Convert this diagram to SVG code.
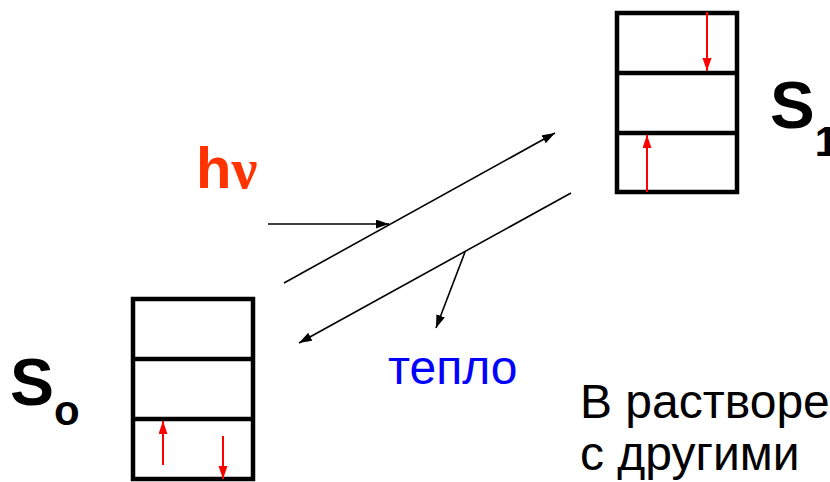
<svg xmlns="http://www.w3.org/2000/svg" width="830" height="482" viewBox="0 0 830 482">
  <style>
    .box { fill: none; stroke: #000; stroke-width: 4.5; }
    .div { stroke: #000; stroke-width: 4.5; }
    .red { stroke: #ff0000; stroke-width: 2; fill: none; }
    .conn { stroke: #000; stroke-width: 1.6; fill: none; }
    .lbl { font-family: "Liberation Sans", Arial, sans-serif; font-weight: bold; fill: #000; }
    .txt { font-family: "Liberation Sans", Arial, sans-serif; fill: #000; }
  </style>
  <defs>
    <marker id="ah" markerUnits="userSpaceOnUse" markerWidth="14" markerHeight="10" refX="13" refY="4.5" orient="auto">
      <path d="M0,0 L13,4.5 L0,9 Z" fill="#000"/>
    </marker>
    <marker id="ahr" markerUnits="userSpaceOnUse" markerWidth="14" markerHeight="10" refX="13" refY="4.5" orient="auto">
      <path d="M0,0 L13,4.5 L0,9 Z" fill="#ff0000"/>
    </marker>
  </defs>

  <!-- excited state S1 -->
  <g id="s1">
    <rect class="box" x="617" y="13" width="120" height="179"/>
    <line class="div" x1="617" y1="73" x2="737" y2="73"/>
    <line class="div" x1="617" y1="133" x2="737" y2="133"/>
    <line class="red" x1="707" y1="12" x2="707" y2="71" marker-end="url(#ahr)"/>
    <line class="red" x1="647" y1="192" x2="647" y2="135" marker-end="url(#ahr)"/>
    <text class="lbl" x="770" y="128" font-size="67">S<tspan font-size="42" dy="28">1</tspan></text>
  </g>

  <!-- ground state S0 -->
  <g id="s0">
    <rect class="box" x="133" y="299" width="120" height="180"/>
    <line class="div" x1="133" y1="359" x2="253" y2="359"/>
    <line class="div" x1="133" y1="419" x2="253" y2="419"/>
    <line class="red" x1="163" y1="465" x2="163" y2="421" marker-end="url(#ahr)"/>
    <line class="red" x1="223" y1="436" x2="223" y2="479" marker-end="url(#ahr)"/>
    <text class="lbl" x="10" y="405" font-size="66">S<tspan font-size="42" dy="20">o</tspan></text>
  </g>

  <!-- photon label -->
  <g id="hv">
    <text x="196" y="188" font-size="58" font-weight="bold" fill="#ff3300" font-family="Liberation Sans, Arial, sans-serif">h<tspan font-family="Liberation Serif, Times New Roman, serif">ν</tspan></text>
  </g>

  <!-- heat label -->
  <g id="heat">
    <text class="txt" x="388" y="384" font-size="48" style="fill:#0000ff">тепло</text>
  </g>

  <!-- caption -->
  <g id="caption">
    <text class="txt" x="580" y="418" font-size="48">В растворе</text>
    <text class="txt" x="580" y="470" font-size="48">с другими</text>
  </g>

  <!-- transitions -->
  <g id="connectors">
    <line class="conn" x1="268" y1="224" x2="389" y2="224" marker-end="url(#ah)"/>
    <line class="conn" x1="284" y1="283" x2="555" y2="133" marker-end="url(#ah)"/>
    <line class="conn" x1="571" y1="193" x2="299" y2="343" marker-end="url(#ah)"/>
    <line class="conn" x1="465" y1="252" x2="436" y2="328" marker-end="url(#ah)"/>
  </g>
</svg>
